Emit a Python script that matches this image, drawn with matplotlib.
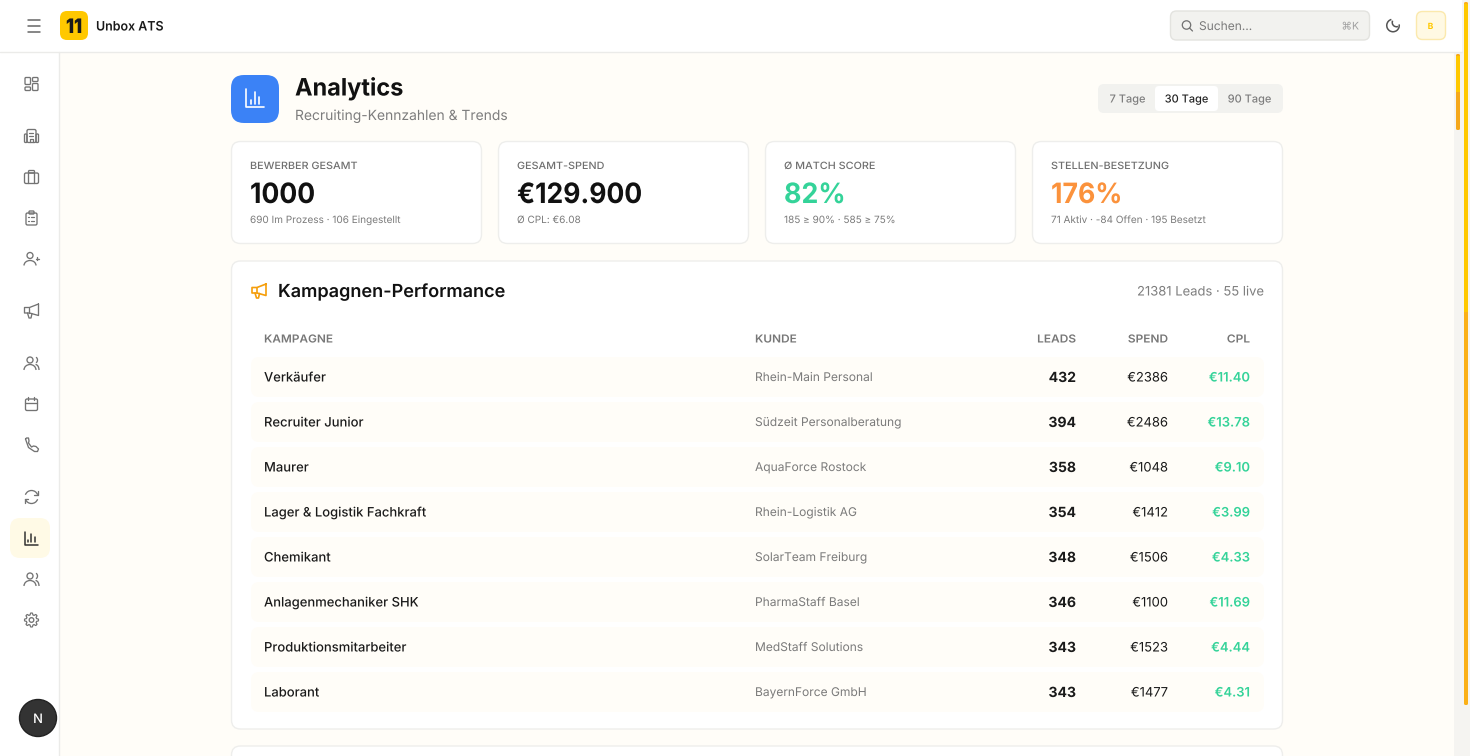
import matplotlib
matplotlib.use("Agg")
import matplotlib.pyplot as plt
from matplotlib.patches import FancyBboxPatch, Circle, Rectangle, Arc
from matplotlib.patheffects import AbstractPathEffect
from matplotlib.transforms import Affine2D
import numpy as np

plt.rcParams['font.family'] = ['Inter', 'DejaVu Sans']
plt.rcParams['text.hinting'] = 'no_hinting'
plt.rcParams['text.hinting_factor'] = 1

# ---- data ----
campaigns = ["Verkäufer", "Recruiter Junior", "Maurer", "Lager & Logistik Fachkraft", "Chemikant",
             "Anlagenmechaniker SHK", "Produktionsmitarbeiter", "Laborant"]
clients = ["Rhein-Main Personal", "Südzeit Personalberatung", "AquaForce Rostock", "Rhein-Logistik AG",
           "SolarTeam Freiburg", "PharmaStaff Basel", "MedStaff Solutions", "BayernForce GmbH"]
leads = [432, 394, 358, 354, 348, 346, 343, 343]
spend = [2386, 2486, 1048, 1412, 1506, 1100, 1523, 1477]
cpl = [11.40, 13.78, 9.10, 3.99, 4.33, 11.69, 4.44, 4.31]
columns = ["KAMPAGNE", "KUNDE", "LEADS", "SPEND", "CPL"]
kpi_titles = ["BEWERBER GESAMT", "GESAMT-SPEND", "Ø MATCH SCORE", "STELLEN-BESETZUNG"]
kpi_values = ["1000", "€129.900", "82%", "176%"]
kpi_notes = ["690 Im Prozess · 106 Eingestellt", "Ø CPL: €6.08", "185 ≥ 90% · 585 ≥ 75%",
             "71 Aktiv · -84 Offen · 195 Besetzt"]
ranges = ["7 Tage", "30 Tage", "90 Tage"]

BG = "#fffdf8"; BORDER = "#eeeeec"; INK = "#111111"; GREEN = "#34d399"
ORANGE = "#fb923c"; YEL = "#ffc800"; AMBER = "#fbb017"; ICON = "#737373"; TRACK = "#f5f4f1"

fig = plt.figure(figsize=(14.7, 7.56), dpi=100, facecolor=BG)
ax = fig.add_axes([0, 0, 1, 1])
ax.set_xlim(0, 1470); ax.set_ylim(756, 0); ax.axis("off")
rend = fig.canvas.get_renderer()


class StretchX(AbstractPathEffect):
    """Draw text as an outline at sub-pixel position, optionally widened (CSS letter-spacing)."""
    def __init__(self, sx=1.0):
        super().__init__()
        self.sx = sx

    def draw_path(self, renderer, gc, tpath, affine, rgbFace=None):
        renderer.draw_path(gc, tpath, Affine2D().scale(self.sx, 1) + affine, rgbFace)


def px(s): return s * 0.72

def box(x, y, w, h, r, fc="white", ec="none", lw=1, z=1):
    ax.add_patch(FancyBboxPatch((x, y), w, h, boxstyle=f"round,pad=0,rounding_size={r}",
                                fc=fc, ec=ec, lw=lw, zorder=z))

def txt(x, y, s, size, color=INK, weight="normal", ha="left", z=5, track=0.0, **kw):
    t = ax.text(x, y, s, fontsize=px(size), color=color, fontweight=weight, ha=ha,
                va="baseline", zorder=z, **kw)
    w = t.get_window_extent(rend).width
    sx = (w + track * len(s)) / w
    new_w = w * sx
    t.set_ha("left")
    t.set_x(x if ha == "left" else x - new_w if ha == "right" else x - new_w / 2)
    t.set_path_effects([StretchX(sx)])
    return t

def line(xs, ys, c=ICON, lw=0.95, z=4):
    ax.plot(xs, ys, color=c, lw=lw, solid_capstyle="round", solid_joinstyle="round", zorder=z)

def arc(cx, cy, w, h, a1, a2, c=ICON, lw=0.95, z=4):
    ax.add_patch(Arc((cx, cy), w, h, theta1=a1, theta2=a2, color=c, lw=lw, zorder=z))

def outl(x, y, w, h, r, c=ICON, lw=0.95, z=4):
    box(x, y, w, h, r, fc="none", ec=c, lw=lw, z=z)

# ---- chrome ----
ax.add_patch(Rectangle((0, 0), 1462, 52, fc="white", ec="none", zorder=2))
ax.add_patch(Rectangle((0, 52), 60, 704, fc="white", ec="none", zorder=2))
line([0, 1462], [51.5, 51.5], c="#ebebe9", lw=1, z=3)
line([59.5, 59.5], [52, 756], c="#ebebe9", lw=1, z=3)

# scrollbars
ax.add_patch(Rectangle((1454, 52), 16, 704, fc=TRACK, ec="none", zorder=2))
ax.add_patch(Rectangle((1462, 0), 8, 52, fc=TRACK, ec="none", zorder=2))
box(1464, 2, 4, 703, 1.5, fc=AMBER, z=3)
ax.add_patch(Rectangle((1464, 4), 4, 308, fc=YEL, ec="none", zorder=3))
box(1456, 54, 4, 76, 1.5, fc="#f5a81c", z=3)
ax.add_patch(Rectangle((1456, 56), 4, 36, fc=YEL, ec="none", zorder=3))

# hamburger
for yy in (20, 26, 32):
    line([28, 40.5], [yy, yy], c="#666666", lw=1.1)
# logo
box(60, 11, 28, 29, 7, fc=YEL, z=3)
txt(74, 33, "11", 20, color="#1a1a1a", weight="black", ha="center", track=-1.0)
txt(96, 30.5, "Unbox ATS", 13, color="#1a1a1a", weight="semibold", track=-0.35)

# search
box(1170.5, 11, 199, 29, 6, fc="#f2f2ef", ec="#e3e3df", z=3)
ax.add_patch(Circle((1186.5, 25), 4.2, fc="none", ec="#707070", lw=0.9, zorder=4))
line([1189.5, 1192.5], [28, 31], c="#707070", lw=0.9)
txt(1199, 30, "Suchen...", 12, color="#7a7a7a")
txt(1359, 29.5, "⌘K", 10.5, color="#a0a0a0", ha="right")
# moon
arc(1393, 25.5, 12.5, 12.5, -10, 255, c="#555555", lw=1.1)
arc(1396.5, 22.5, 8.5, 8.5, 70, 205, c="#555555", lw=1.1)
# avatar
box(1416.5, 11.5, 29, 28, 6, fc="#fff9e3", ec="#fbe9ad", z=3)
txt(1430.5, 29, "B", 8.5, color=YEL, weight="bold", ha="center")

# ---- sidebar icons ----
def ic_grid(cx, cy):
    outl(cx-6.5, cy-6.5, 5.5, 7, 1); outl(cx+1, cy-6.5, 5.5, 4, 1)
    outl(cx+1, cy-0.5, 5.5, 7, 1); outl(cx-6.5, cy+3, 5.5, 3.5, 1)
def ic_building(cx, cy):
    outl(cx-4.5, cy-6.5, 9, 13, 1.5); outl(cx-7, cy-2, 2.5, 8.5, 1); outl(cx+4.5, cy-2, 2.5, 8.5, 1)
    line([cx-2, cx+2], [cy-3, cy-3], lw=0.9); line([cx-2, cx+2], [cy, cy], lw=0.9)
    line([cx-1.5, cx-1.5, cx+1.5, cx+1.5], [cy+6, cy+3, cy+3, cy+6], lw=0.9)
def ic_case(cx, cy):
    outl(cx-7, cy-4, 14, 10.5, 1.5); outl(cx-3, cy-6.5, 6, 2.5, 1)
    line([cx-3, cx-3], [cy-4, cy+6]); line([cx+3, cx+3], [cy-4, cy+6])
def ic_clip(cx, cy):
    outl(cx-5.5, cy-5, 11, 12, 1.5); outl(cx-2.5, cy-7, 5, 3, 0.8)
    for d in (-1, 2.5):
        line([cx-3, cx-2.5], [cy+d, cy+d], lw=0.9); line([cx-0.5, cx+3], [cy+d, cy+d], lw=0.9)
def ic_useradd(cx, cy):
    ax.add_patch(Circle((cx-1.5, cy-3.5), 3, fc="none", ec=ICON, lw=0.95, zorder=4))
    arc(cx-1.5, cy+6.5, 12, 10, 180, 360)
    line([cx+4.5, cx+7.5], [cy-0.5, cy-0.5]); line([cx+6, cx+6], [cy-2, cy+1])
def ic_mega(cx, cy, c=ICON, lw=0.95, z=4):
    line([cx+7, cx+7, cx-2, cx-7, cx-7, cx-2, cx+7], [cy-7, cy+4.5, cy+2, cy+2, cy-3.5, cy-3.5, cy-7], c=c, lw=lw, z=z)
    line([cx-4, cx-2.5, cx-0.5, cx+0.5], [cy+2, cy+7, cy+7, cy+2.5], c=c, lw=lw, z=z)
    line([cx-2, cx-2], [cy-3.5, cy+2], c=c, lw=lw, z=z)
def ic_users(cx, cy):
    ax.add_patch(Circle((cx-1.5, cy-3), 3, fc="none", ec=ICON, lw=0.95, zorder=4))
    arc(cx-1.5, cy+7, 12, 11, 180, 360)
    arc(cx+3.5, cy-3, 5, 6, -70, 70); arc(cx+4, cy+7, 7, 11, 270, 360)
def ic_cal(cx, cy):
    outl(cx-6, cy-5, 12, 11.5, 1.5); line([cx-6, cx+6], [cy-1.5, cy-1.5])
    line([cx-3, cx-3], [cy-7, cy-4]); line([cx+3, cx+3], [cy-7, cy-4])
def ic_phone(cx, cy):
    line([cx-6, cx-5, cx-3, cx-2.5, cx-3, cx, cx+2, cx+4.5, cx+7, cx+6, cx+3, cx-3, cx-6],
         [cy-6, cy-7, cy-7, cy-4, cy-2, cy+2, cy+1, cy+1.5, cy+4, cy+6.5, cy+6.5, cy+2.5, cy-6])
def ic_sync(cx, cy):
    arc(cx, cy, 13, 13, 200, 340); arc(cx, cy, 13, 13, 20, 160)
    line([cx+6.5, cx+6.5, cx+3], [cy-6, cy-2, cy-2]); line([cx-6.5, cx-6.5, cx-3], [cy+6, cy+2, cy+2])
def ic_chart(cx, cy, c="#333333", lw=1.1, s=1.0, z=4):
    line([cx-6.5*s, cx-6.5*s, cx+6.5*s], [cy-6.5*s, cy+6.5*s, cy+6.5*s], c=c, lw=lw, z=z)
    for dx, top in ((-3.2, 1.5), (0, -4), (3.2, -1)):
        line([cx+dx*s, cx+dx*s], [cy+4*s, cy+top*s], c=c, lw=lw, z=z)
def ic_gear(cx, cy):
    t = np.linspace(0, 2*np.pi, 97)
    r = 6.1 + 0.9*np.clip(2*np.cos(8*t), -1, 1)
    line(cx + r*np.cos(t), cy + r*np.sin(t), lw=0.85)
    ax.add_patch(Circle((cx, cy), 2.3, fc="none", ec=ICON, lw=0.95, zorder=4))

box(10, 518, 40, 40, 10, fc="#fffae6", z=3)
for fn, yy in ((ic_grid, 84), (ic_building, 136), (ic_case, 177), (ic_clip, 218), (ic_useradd, 259),
               (ic_mega, 311), (ic_users, 363), (ic_cal, 404), (ic_phone, 445), (ic_sync, 497),
               (ic_chart, 538), (ic_users, 579), (ic_gear, 620)):
    fn(31.5, yy)

# next badge
ax.add_patch(Circle((38, 718), 18.5, fc="#333333", ec="#222222", lw=1, zorder=4))
txt(38, 723, "N", 13, color="white", weight="medium", ha="center")

# ---- page header ----
box(231, 75, 48, 48, 13, fc="#3b82f6", z=3)
ic_chart(255, 98, c="white", lw=1.2, s=1.4)
txt(295, 95.5, "Analytics", 24, color=INK, weight="bold", track=-0.25)
txt(295, 120, "Recruiting-Kennzahlen & Trends", 14, color="#7d7d7d", track=-0.07)

# range selector
box(1098, 84, 185, 29, 6, fc="#f2f2ef", z=3)
box(1155, 86, 63, 25, 4, fc="white", z=4)
for x_c, label, col in zip((1127.5, 1186.5, 1249.5), ranges, ("#7d7d7d", "#222222", "#7d7d7d")):
    txt(x_c, 102.5, label, 11, color=col, weight="medium", ha="center")

# ---- KPI cards ----
card_x = [231.5, 498.5, 765.5, 1032.5]
kpi_colors = [INK, INK, GREEN, ORANGE]
for x0, t, v, n, col in zip(card_x, kpi_titles, kpi_values, kpi_notes, kpi_colors):
    box(x0, 141.5, 250, 102, 9, fc="white", ec=BORDER, z=3)
    txt(x0 + 18.5, 169, t, 10, color="#6f6f6f", weight="medium", track=0.53)
    txt(x0 + 18.5, 203, v, 28, color=col, weight="bold", track=-0.9)
    txt(x0 + 18.5, 223, n, 10, color="#7a7a7a")

# ---- campaign table ----
box(231.5, 261, 1051, 468, 9, fc="white", ec=BORDER, z=3)
ic_mega(259, 291, c="#f59e0b", lw=1.2, z=4)
txt(278, 297, "Kampagnen-Performance", 18, color=INK, weight="semibold", track=0.05)
txt(1264, 295.5, "21381 Leads · 55 live", 13, color="#7d7d7d", ha="right")

col_x = [264, 755, 1076, 1168, 1250]
col_ha = ["left", "left", "right", "right", "right"]
for x0, lab, ha in zip(col_x, columns, col_ha):
    txt(x0, 342.5, lab, 11, color="#777777", weight="semibold", ha=ha, track=0.6)

row_y = [377 + 45 * i for i in range(len(campaigns))]
for yy, name, cl, ld, sp, c in zip(row_y, campaigns, clients, leads, spend, cpl):
    box(251, yy - 20, 1013, 40, 8, fc="#fffdf8", z=3)
    txt(col_x[0], yy + 4.5, name, 13, color="#1a1a1a", weight="medium")
    txt(col_x[1], yy + 4, cl, 12, color="#7a7a7a")
    txt(col_x[2], yy + 5, str(ld), 14, color="#1a1a1a", weight="bold", ha="right")
    txt(col_x[3], yy + 4.5, f"€{sp}", 13, color="#1a1a1a", ha="right")
    txt(col_x[4], yy + 4.5, f"€{c:.2f}", 13, color=GREEN, weight="semibold", ha="right")

# next card peeking at bottom
box(231.5, 746, 1051, 60, 9, fc="white", ec=BORDER, z=3)

fig.savefig("out.png", dpi=100, facecolor=BG)
